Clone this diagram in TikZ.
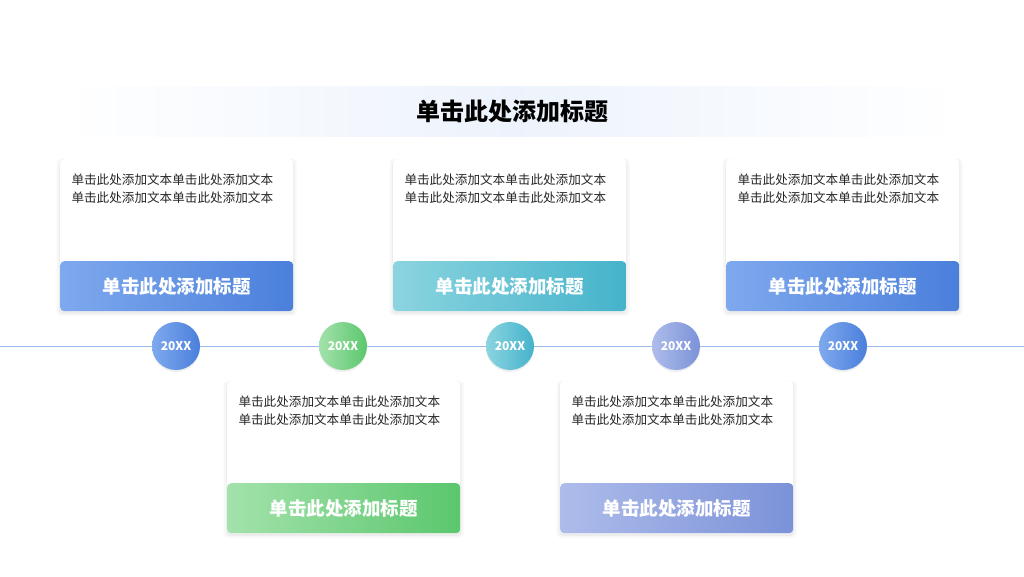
\documentclass[tikz,border=0pt]{standalone}
\usepackage{fontspec}
\setmainfont{Noto Sans CJK SC}
\usetikzlibrary{shadows,fadings}
\definecolor{bA}{HTML}{7FA9EE}\definecolor{bB}{HTML}{4A7FDB}
\definecolor{tA}{HTML}{8BD4DF}\definecolor{tB}{HTML}{45B3CB}
\definecolor{gA}{HTML}{A3E2AB}\definecolor{gB}{HTML}{5BC76D}
\definecolor{pA}{HTML}{AEBCEB}\definecolor{pB}{HTML}{7B92D8}
\definecolor{lineC}{HTML}{9BBCEB}
\definecolor{band}{HTML}{EDF3FC}
\tikzset{
 shad/.style={drop shadow={opacity=0.06,shadow xshift=0pt,shadow yshift=-2pt,shadow scale=1.03},
   drop shadow={opacity=0.08,shadow xshift=0pt,shadow yshift=-2pt,shadow scale=1.01}},
 card/.style={fill=white,rounded corners=4pt,minimum width=233pt,minimum height=152pt,anchor=north west,shad},
 bar/.style 2 args={rounded corners=4pt,minimum width=233pt,minimum height=50pt,anchor=north west,
   left color=#1,right color=#2,text=white,font=\fontsize{18.5}{22}\selectfont\bfseries},
 body/.style={anchor=north west,align=left,font=\fontsize{12.6}{18}\selectfont,text=black!85},
 dot/.style 2 args={circle,minimum size=48pt,left color=#1,right color=#2,text=white,
   font=\fontsize{12}{14}\selectfont\bfseries,drop shadow={opacity=0.12,shadow xshift=0pt,shadow yshift=-2pt}}
}
\begin{document}
\begin{tikzpicture}[x=1pt,y=-1pt]
\useasboundingbox (0,0) rectangle (1024,576);
\fill[white] (0,0) rectangle (1024,576);
\fill[left color=white,right color=band] (60,86) rectangle (512,136);
\fill[left color=band,right color=white] (512,86) rectangle (960,136);
\node (title) at (512,111) {\fontsize{24}{28}\selectfont\bfseries 单击此处添加标题};
\coordinate (L) at (0,346); \coordinate (R) at (1024,346);
\draw[lineC,line width=1pt] (L) -- (R);
\newcommand\bodytext{单击此处添加文本单击此处添加文本\\单击此处添加文本单击此处添加文本}
\foreach \x/\a/\b/\n in {60/bA/bB/c1,393/tA/tB/c3,726/bA/bB/c5}{
  \node[card] (\n) at (\x,159) {};
  \node[body] (\n t) at (\x+8,170) {\bodytext};
  \node[bar={\a}{\b}] (\n b) at (\x,261) {单击此处添加标题};
}
\foreach \x/\a/\b/\n in {227/gA/gB/c2,560/pA/pB/c4}{
  \node[card] (\n) at (\x,381) {};
  \node[body] (\n t) at (\x+8,392) {\bodytext};
  \node[bar={\a}{\b}] (\n b) at (\x,483) {单击此处添加标题};
}
\foreach \x/\a/\b/\n in {176/bA/bB/d1,343/gA/gB/d2,510/tA/tB/d3,676/pA/pB/d4,843/bA/bB/d5}{
  \node[dot={\a}{\b}] (\n) at (\x,346) {20XX};
}
\end{tikzpicture}
\end{document}
